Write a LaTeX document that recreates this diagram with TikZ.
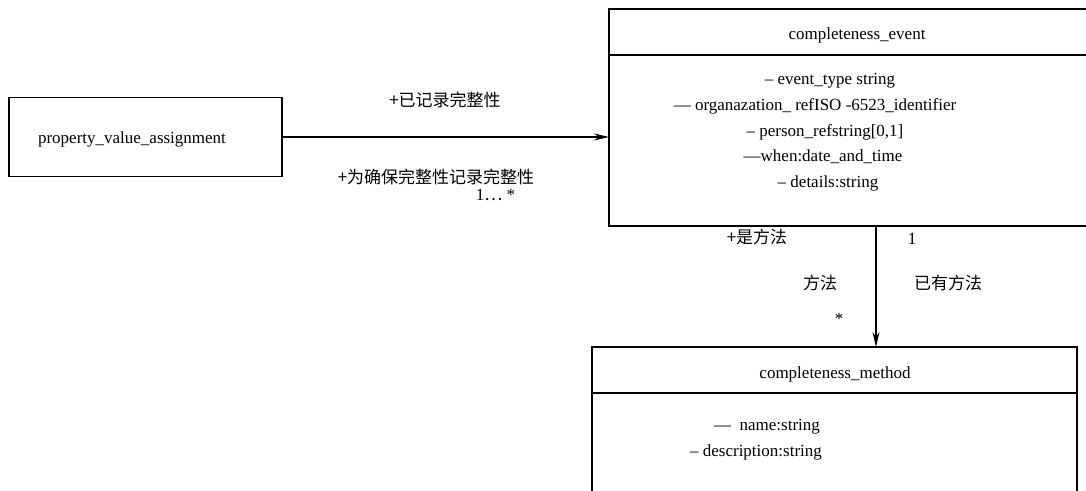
\documentclass[tikz,border=0pt]{standalone}
\usepackage{fontspec}
\setmainfont{Liberation Serif}
\newfontfamily\cjk{Noto Sans CJK SC}
\usetikzlibrary{arrows.meta}
\begin{document}
\begin{tikzpicture}[x=1pt,y=-1pt,
  classbox/.style={draw, line width=1.5pt, inner sep=0pt, outer sep=0pt},
  sep/.style={line width=1.5pt},
  txt/.style={font=\fontsize{17}{20}\selectfont, inner sep=0pt},
  zh/.style={font=\fontsize{17}{20}\selectfont\cjk, inner sep=0pt},
  link/.style={line width=1.3pt, -{Stealth[length=15pt,width=7pt]}}]
\useasboundingbox (0,0) rectangle (1086,490);
\clip (0,0) rectangle (1086,490);

% property_value_assignment
\node[classbox, minimum width=273, minimum height=79] (pva) at (145.5,137) {};
\node[txt] (pvaname) at (132,139.5) {property\_value\_assignment};

% completeness_event
\node[classbox, minimum width=496, minimum height=217] (evt) at (857,117.5) {};
\draw[sep] ([yshift=-46pt]evt.north west) -- ([yshift=-46pt]evt.north east);
\node[txt] (evtname) at (857,35) {completeness\_event};
\node[txt] (evta1) at (830,81) {– event\_type string};
\node[txt] (evta2) at (815,106) {— organazation\_ refISO -6523\_identifier};
\node[txt] (evta3) at (825,132) {– person\_refstring[0,1]};
\node[txt] (evta4) at (823,157) {—when:date\_and\_time};
\node[txt] (evta5) at (828,183) {– details:string};

% completeness_method
\node[classbox, minimum width=485, minimum height=163] (mth) at (834.5,428.5) {};
\draw[sep] ([yshift=-46pt]mth.north west) -- ([yshift=-46pt]mth.north east);
\node[txt] (mthname) at (835,374) {completeness\_method};
\node[txt] (mtha1) at (767,427) {—\ \ name:string};
\node[txt] (mtha2) at (756,452) {– description:string};

% associations
\draw[link] (pva.east) -- (pva.east -| evt.west);
\draw[link] ([xshift=267pt]evt.south west) -- ([xshift=284pt]mth.north west);

% association labels
\node[zh] (l1) at (445,100) {+已记录完整性};
\node[zh] (l2) at (436,177) {+为确保完整性记录完整性};
\node[txt] (l3) at (495.5,195) {1{\cjk …} *};
\node[zh] (l4) at (757,237) {+是方法};
\node[txt] (l5) at (912,239) {1};
\node[zh] (l6) at (820,283) {方法};
\node[zh] (l7) at (948,283) {已有方法};
\node[txt] (l8) at (839,319) {*};
\end{tikzpicture}
\end{document}
